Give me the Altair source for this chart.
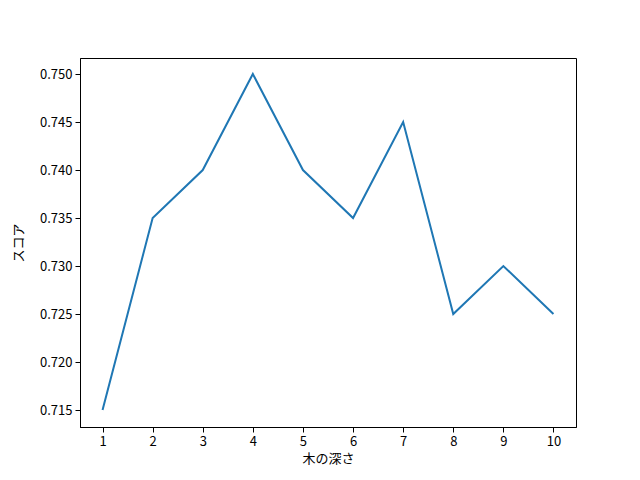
import altair as alt
import pandas as pd

depth = [1, 2, 3, 4, 5, 6, 7, 8, 9, 10]
score = [0.715, 0.735, 0.740, 0.750, 0.740, 0.735, 0.745, 0.725, 0.730, 0.725]
y_ticks = [0.715, 0.720, 0.725, 0.730, 0.735, 0.740, 0.745, 0.750]

df = pd.DataFrame({"depth": depth, "score": score})
FONT = "Noto Sans CJK JP"

chart = alt.Chart(df).mark_line(color="#1f77b4", strokeWidth=2).encode(
    x=alt.X("depth:Q", scale=alt.Scale(domain=[0.55, 10.45], nice=False, zero=False),
            axis=alt.Axis(title="木の深さ", values=depth, format="d", grid=False,
                          domainColor="black", tickColor="black", tickSize=5,
                          labelColor="black", labelFontSize=13, labelFont=FONT,
                          titleFont=FONT, titleFontSize=13, titleFontWeight="normal",
                          titleColor="black", labelPadding=3, titlePadding=4,
                          labelFlush=False)),
    y=alt.Y("score:Q", scale=alt.Scale(domain=[0.71323, 0.75167], nice=False, zero=False),
            axis=alt.Axis(title="スコア", values=y_ticks, format=".3f", grid=False,
                          domainColor="black", tickColor="black", tickSize=5,
                          labelColor="black", labelFontSize=13, labelFont=FONT,
                          titleFont=FONT, titleFontSize=13, titleFontWeight="normal",
                          titleColor="black", labelPadding=3, titlePadding=14,
                          labelFlush=False)),
).properties(
    width=496, height=369,
    autosize=alt.AutoSizeParams(type="none"),
    padding={"left": 72, "top": 50, "right": 56, "bottom": 45},
    background="white",
).configure_view(stroke="black", strokeWidth=1)

chart.save("out.html", embed_options={"renderer": "svg", "actions": False})
